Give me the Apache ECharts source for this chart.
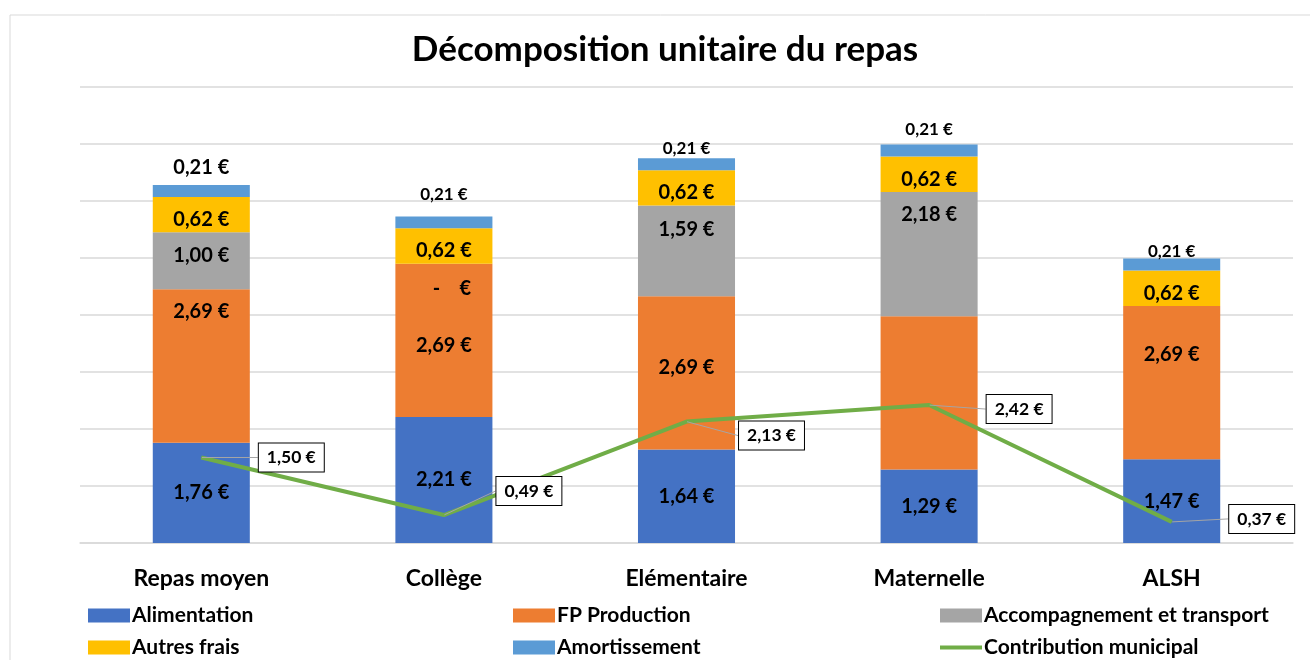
<!DOCTYPE html>
<html>
<head>
<meta charset="utf-8">
<script src="https://cdn.jsdelivr.net/npm/echarts@6/dist/echarts.min.js"></script>
<style>
  html, body { margin: 0; padding: 0; background: #fff; }
  #chart { width: 1310px; height: 660px; }
</style>
</head>
<body>
<div id="chart"></div>
<script>
var categories = ['Repas moyen', 'Collège', 'Elémentaire', 'Maternelle', 'ALSH'];
var alimentation = [1.76, 2.21, 1.64, 1.29, 1.47];
var fpProduction = [2.69, 2.69, 2.69, 2.69, 2.69];
var accompagnement = [1.00, 0, 1.59, 2.18, 0];
var autresFrais = [0.62, 0.62, 0.62, 0.62, 0.62];
var amortissement = [0.21, 0.21, 0.21, 0.21, 0.21];
var contribution = [1.50, 0.49, 2.13, 2.42, 0.37];

var FONT = 'Lato';

function euro(v) {
  if (v === 0) return '-    €';
  return v.toFixed(2).replace('.', ',') + ' €';
}

// label tweaks (Excel moved some labels by hand)
var orangeDy = [-54, 5, -5, 0, -28];
var grayDy = [-5, 25, -21, -39, 0];
var amortDy = [-23, -28, -16, -21, -13];
var lineDx = [90, 85, 85, 90, 90];
var lineDy = [0, -24, 14, 4, -3];

function barLabel(size) {
  return {
    show: true,
    position: 'inside',
    color: '#000',
    fontFamily: FONT,
    fontWeight: 'bold',
    fontSize: size,
    formatter: function (p) { return euro(p.value); }
  };
}

var myChart = echarts.init(document.getElementById('chart'));

var option = {
  animation: false,
  textStyle: { fontFamily: FONT },
  graphic: [{
    type: 'rect',
    z: -10,
    shape: { x: 10, y: 15, width: 1400, height: 700 },
    style: { fill: 'none', stroke: '#d9d9d9', lineWidth: 1 }
  }],
  title: {
    text: 'Décomposition unitaire du repas',
    left: 660,
    top: 27,
    textAlign: 'center',
    textStyle: { fontFamily: FONT, fontWeight: 'bold', fontSize: 35, color: '#000' }
  },
  legend: [
    { data: ['Alimentation'], left: 88, top: 605 },
    { data: ['FP Production'], left: 513, top: 605 },
    { data: ['Accompagnement et transport'], left: 940, top: 605 },
    { data: ['Autres frais'], left: 88, top: 637 },
    { data: ['Amortissement'], left: 513, top: 637 },
    { data: ['Contribution municipal'], left: 940, top: 637, itemHeight: 4 }
  ].map(function (l) {
    l.icon = 'rect';
    l.itemWidth = 42;
    if (!l.itemHeight) l.itemHeight = 14;
    l.padding = 0;
    l.textStyle = { fontFamily: FONT, fontWeight: 'bold', fontSize: 21, color: '#000', padding: [0, 0, 0, -3] };
    return l;
  }),
  grid: { left: 80, right: 17, top: 87, bottom: 117 },
  xAxis: {
    type: 'category',
    data: categories,
    axisLine: { lineStyle: { color: '#d9d9d9', width: 1.5 } },
    axisTick: { show: false },
    axisLabel: { color: '#000', fontFamily: FONT, fontWeight: 'bold', fontSize: 23, margin: 24 }
  },
  yAxis: {
    type: 'value',
    min: 0,
    max: 8,
    interval: 1,
    axisLabel: { show: false },
    axisLine: { show: false },
    axisTick: { show: false },
    splitLine: { lineStyle: { color: '#d9d9d9', width: 1.5 } }
  },
  series: [
    {
      name: 'Alimentation', type: 'bar', stack: 'repas', barWidth: '40%',
      itemStyle: { color: '#4472c4' },
      label: barLabel(20),
      data: alimentation
    },
    {
      name: 'FP Production', type: 'bar', stack: 'repas',
      itemStyle: { color: '#ed7d31' },
      label: barLabel(20),
      labelLayout: function (p) { return { dy: orangeDy[p.dataIndex] }; },
      data: fpProduction.map(function (v, i) {
        return i === 3 ? { value: v, label: { show: false } } : v;
      })
    },
    {
      name: 'Accompagnement et transport', type: 'bar', stack: 'repas',
      itemStyle: { color: '#a5a5a5' },
      label: barLabel(20),
      labelLayout: function (p) {
        return p.dataIndex === 1 ? { dx: 8, dy: grayDy[1] } : { dy: grayDy[p.dataIndex] };
      },
      data: accompagnement.map(function (v, i) {
        return i === 4 ? { value: v, label: { show: false } } : v;
      })
    },
    {
      name: 'Autres frais', type: 'bar', stack: 'repas',
      itemStyle: { color: '#ffc000' },
      label: barLabel(20),
      labelLayout: { dy: 5 },
      data: autresFrais
    },
    {
      name: 'Amortissement', type: 'bar', stack: 'repas',
      itemStyle: { color: '#5b9bd5' },
      label: barLabel(17),
      labelLayout: function (p) { return { dy: amortDy[p.dataIndex] }; },
      data: amortissement.map(function (v, i) {
        return i === 0 ? { value: v, label: { fontSize: 20 } } : v;
      })
    },
    {
      name: 'Contribution municipal', type: 'line', z: 5,
      symbol: 'circle', symbolSize: 1, showSymbol: true,
      itemStyle: { color: '#70ad47' },
      lineStyle: { color: '#70ad47', width: 4 },
      label: {
        show: true,
        position: 'inside',
        color: '#000',
        fontFamily: FONT,
        fontWeight: 'bold',
        fontSize: 17.5,
        backgroundColor: '#fff',
        borderColor: '#000',
        borderWidth: 1,
        padding: [5, 8],
        formatter: function (p) { return euro(p.value); }
      },
      labelLine: { show: true, lineStyle: { color: '#a5a5a5', width: 1 } },
      labelLayout: function (p) {
        return { dx: lineDx[p.dataIndex], dy: lineDy[p.dataIndex] };
      },
      data: contribution
    }
  ]
};

myChart.setOption(option);
window.onresize = function () { myChart.resize(); };
</script>
</body>
</html>
